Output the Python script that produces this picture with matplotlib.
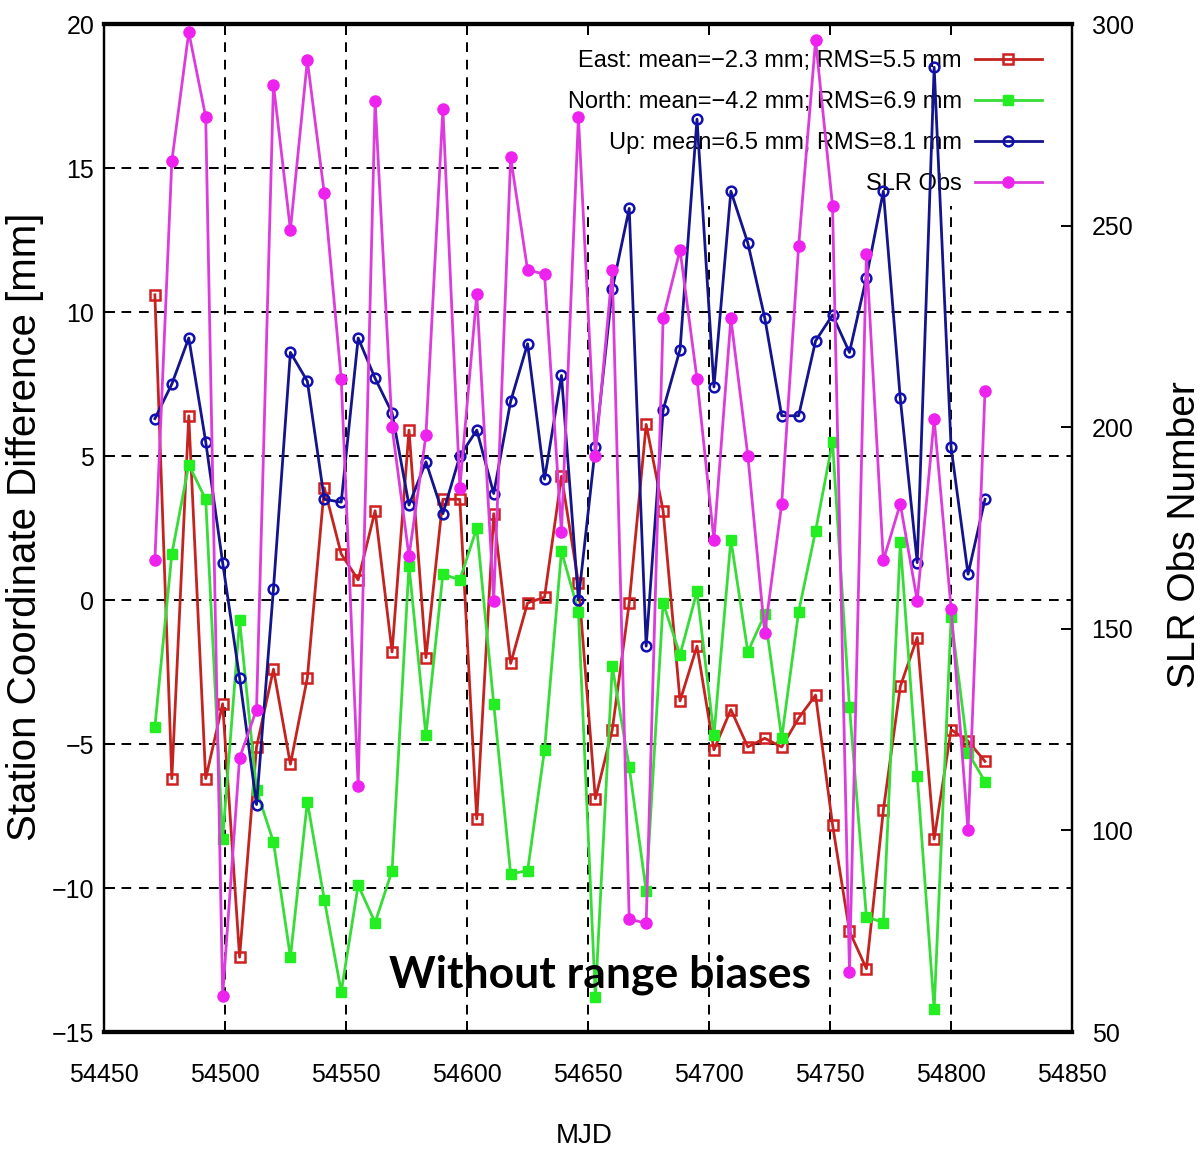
import matplotlib
matplotlib.use("Agg")
import matplotlib.pyplot as plt
from matplotlib.patches import Rectangle

sans = ["Liberation Sans", "DejaVu Sans"]
plt.rcParams["font.family"] = sans

# weekly solutions (MJD)
mjd = [54471, 54478, 54485, 54492, 54499, 54506, 54513, 54520, 54527, 54534,
       54541, 54548, 54555, 54562, 54569, 54576, 54583, 54590, 54597, 54604,
       54611, 54618, 54625, 54632, 54639, 54646, 54653, 54660, 54667, 54674,
       54681, 54688, 54695, 54702, 54709, 54716, 54723, 54730, 54737, 54744,
       54751, 54758, 54765, 54772, 54779, 54786, 54793, 54800, 54807, 54814]

# station coordinate differences [mm]
east = [10.6, -6.2, 6.4, -6.2, -3.6, -12.4, -5.1, -2.4, -5.7, -2.7,
        3.9, 1.6, 0.7, 3.1, -1.8, 5.9, -2.0, 3.5, 3.5, -7.6,
        3.0, -2.2, -0.1, 0.1, 4.3, 0.6, -6.9, -4.5, -0.1, 6.1,
        3.1, -3.5, -1.6, -5.2, -3.8, -5.1, -4.8, -5.1, -4.1, -3.3,
        -7.8, -11.5, -12.8, -7.3, -3.0, -1.3, -8.3, -4.5, -4.9, -5.6]
north = [-4.4, 1.6, 4.7, 3.5, -8.3, -0.7, -6.6, -8.4, -12.4, -7.0,
         -10.4, -13.6, -9.9, -11.2, -9.4, 1.2, -4.7, 0.9, 0.7, 2.5,
         -3.6, -9.5, -9.4, -5.2, 1.7, -0.4, -13.8, -2.3, -5.8, -10.1,
         -0.1, -1.9, 0.3, -4.7, 2.1, -1.8, -0.5, -4.8, -0.4, 2.4,
         5.5, -3.7, -11.0, -11.2, 2.0, -6.1, -14.2, -0.6, -5.3, -6.3]
up = [6.3, 7.5, 9.1, 5.5, 1.3, -2.7, -7.1, 0.4, 8.6, 7.6,
      3.5, 3.4, 9.1, 7.7, 6.5, 3.3, 4.8, 3.0, 5.0, 5.9,
      3.7, 6.9, 8.9, 4.2, 7.8, 0.0, 5.3, 10.8, 13.6, -1.6,
      6.6, 8.7, 16.7, 7.4, 14.2, 12.4, 9.8, 6.4, 6.4, 9.0,
      9.9, 8.6, 11.2, 14.2, 7.0, 1.3, 18.5, 5.3, 0.9, 3.5]

# number of SLR observations (right axis)
slr_obs = [167, 266, 298, 277, 59, 118, 130, 285, 249, 291,
           258, 212, 111, 281, 200, 168, 198, 279, 185, 233,
           157, 267, 239, 238, 174, 277, 193, 239, 78, 77,
           227, 244, 212, 172, 227, 193, 149, 181, 245, 296,
           255, 65, 243, 167, 181, 157, 202, 155, 100, 209]

labels = ["East: mean=\u22122.3 mm; RMS=5.5 mm",
          "North: mean=\u22124.2 mm; RMS=6.9 mm",
          "Up: mean=6.5 mm; RMS=8.1 mm",
          "SLR Obs"]
x_ticks = [54450, 54500, 54550, 54600, 54650, 54700, 54750, 54800, 54850]
y_ticks = [-15, -10, -5, 0, 5, 10, 15, 20]
y2_ticks = [50, 100, 150, 200, 250, 300]

fig = plt.figure(figsize=(12.03, 11.53), dpi=100)
ax = fig.add_axes([0.0865, 0.1049, 0.8047, 0.8742])
ax2 = ax.twinx()

ax.set_xlim(54450, 54850)
ax.set_ylim(-15, 20)
ax2.set_ylim(50, 300)
ax.set_xticks(x_ticks)
ax.set_yticks(y_ticks)
ax2.set_yticks(y2_ticks)

ax.set_axisbelow(True)
ax.grid(True, color="black", linestyle=(0, (5, 4)), linewidth=1.4)

# white box behind the key hides the grid but not the data
ax.add_patch(Rectangle((0.428, 0.82), 0.572, 0.168, transform=ax.transAxes,
                       facecolor="white", edgecolor="none", zorder=1))

l1, = ax.plot(mjd, east, color="#c42420", lw=2, marker="s", ms=7,
              mfc="none", mec="#d02020", mew=1.8, zorder=2)
l2, = ax.plot(mjd, north, color="#38dc38", lw=2, marker="s", ms=7,
              mfc="#22ee22", mec="#22ee22", zorder=2)
l3, = ax.plot(mjd, up, color="#14148c", lw=2, marker="o", ms=7,
              mfc="none", mec="#1010b0", mew=1.8, zorder=2)
l4, = ax2.plot(mjd, slr_obs, color="#dc3cdc", lw=2, marker="o", ms=8,
               mfc="#ee22ee", mec="#ee22ee", zorder=2)

leg = ax.legend([l1, l2, l3, l4], labels, loc="upper right",
                bbox_to_anchor=(0.969, 0.974), frameon=False, markerfirst=False,
                handlelength=2.85, handletextpad=0.55, labelspacing=0.8,
                borderpad=0, borderaxespad=0,
                prop={"family": sans, "size": 17})
leg.set_zorder(1.5)

ax.tick_params(axis="both", direction="in", length=8, width=1.4,
               labelsize=18, top=True, right=False)
ax.tick_params(axis="x", pad=22)
ax.tick_params(axis="y", pad=7)
ax2.tick_params(axis="y", direction="in", length=8, width=1.4,
                labelsize=18, pad=14)
for a in (ax, ax2):
    a.spines["top"].set_linewidth(3)
    a.spines["bottom"].set_linewidth(3)
    a.spines["left"].set_linewidth(1.6)
    a.spines["right"].set_linewidth(1.6)

fig.text(0.021, 0.543, "Station Coordinate Difference [mm]", rotation=90,
         ha="center", va="center", fontsize=29)
fig.text(0.985, 0.536, "SLR Obs Number", rotation=90,
         ha="center", va="center", fontsize=28)
fig.text(0.486, 0.015, "MJD", ha="center", va="center", fontsize=20)
fig.text(0.4988, 0.1544, "Without range biases", ha="center", va="center",
         fontsize=32, fontweight="bold", family=["Lato", "DejaVu Sans"])

fig.savefig("out.png", dpi=100)
